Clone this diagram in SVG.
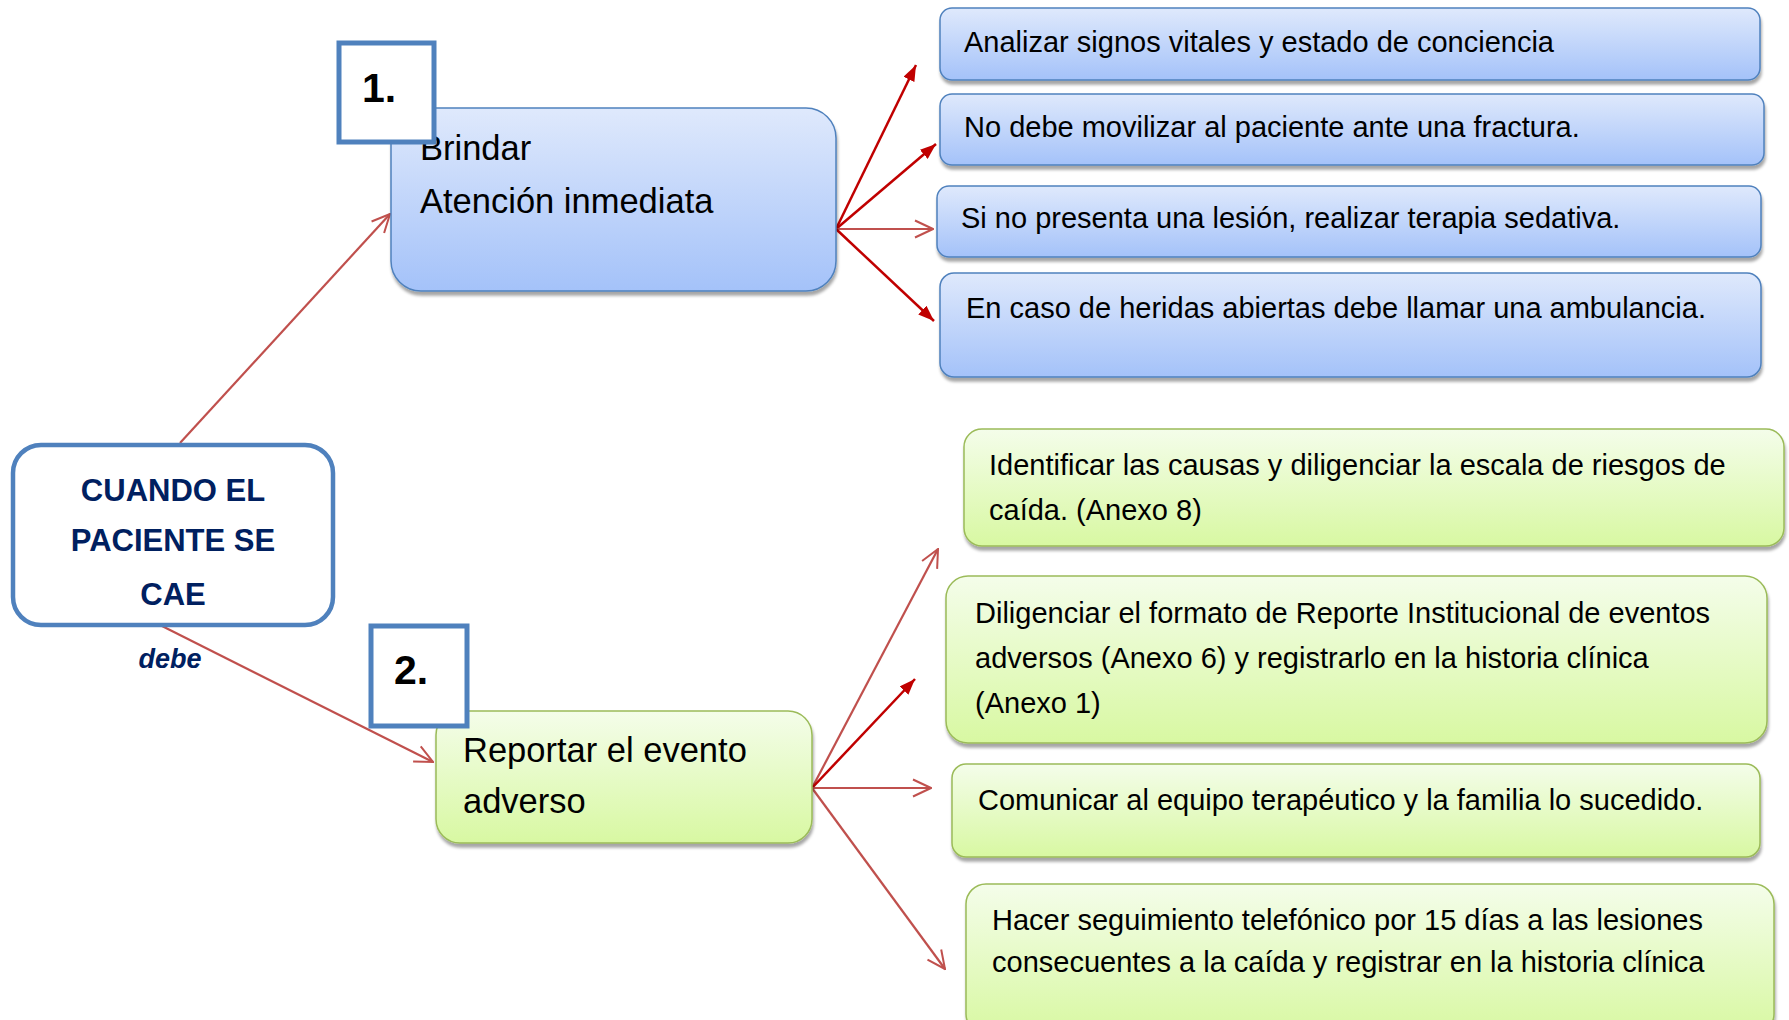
<svg xmlns="http://www.w3.org/2000/svg" width="1789" height="1020" viewBox="0 0 1789 1020">
<style>
.t{font-family:"Liberation Sans",Arial,sans-serif;fill:#000}
.s{font-size:29px}
.m{font-size:34.5px}
.num{font-family:"Liberation Sans",Arial,sans-serif;font-weight:bold;font-size:41px;fill:#000}
.blue{fill:url(#gb);stroke:#4F81BD;stroke-width:1.5}
.green{fill:url(#gg);stroke:#9BBB59;stroke-width:1.5}
.nb{fill:#fff;stroke:#4F81BD;stroke-width:5}
.c1{stroke:#C0504D;stroke-width:2.2;fill:none}
.c2{stroke:#C00000;stroke-width:2.5;fill:none}
.cu{font-family:"Liberation Sans",Arial,sans-serif;font-weight:bold;font-size:31px;fill:#002060}
</style>
<defs>
<linearGradient id="gb" x1="0" y1="0" x2="0" y2="1"><stop offset="0" stop-color="#DFE9FC"/><stop offset="1" stop-color="#A4C2F9"/></linearGradient>
<linearGradient id="gg" x1="0" y1="0" x2="0" y2="1"><stop offset="0" stop-color="#F4FDEA"/><stop offset="1" stop-color="#D8F8A2"/></linearGradient>
<filter id="sh" x="-5%" y="-10%" width="110%" height="130%"><feDropShadow dx="1" dy="4" stdDeviation="1.5" flood-color="#000" flood-opacity="0.35"/></filter>
<marker id="open" viewBox="0 0 20 20" refX="19" refY="10" markerWidth="20" markerHeight="20" markerUnits="userSpaceOnUse" orient="auto"><path d="M1,1.5 L19,10 L1,18.5" fill="none" stroke="#C0504D" stroke-width="2"/></marker>
<marker id="solid" viewBox="0 0 16 12" refX="16" refY="6" markerWidth="16" markerHeight="12" markerUnits="userSpaceOnUse" orient="auto"><path d="M0,0 L16,6 L0,12 Z" fill="#C00000"/></marker>
</defs>
<rect width="1789" height="1020" fill="#fff"/>

<g id="connectors">
<line class="c1" x1="180" y1="443" x2="390" y2="214" marker-end="url(#open)"/>
<line class="c1" x1="160" y1="625" x2="433" y2="762" marker-end="url(#open)"/>
<line class="c2" x1="836" y1="229" x2="916" y2="65" marker-end="url(#solid)"/>
<line class="c2" x1="836" y1="229" x2="936" y2="144" marker-end="url(#solid)"/>
<line class="c1" x1="836" y1="229" x2="933" y2="229" marker-end="url(#open)"/>
<line class="c2" x1="836" y1="229" x2="934" y2="321" marker-end="url(#solid)"/>
<line class="c1" x1="812" y1="788" x2="938" y2="549" marker-end="url(#open)"/>
<line class="c2" x1="812" y1="788" x2="915" y2="679" marker-end="url(#solid)"/>
<line class="c1" x1="812" y1="788" x2="931" y2="788" marker-end="url(#open)"/>
<line class="c1" x1="812" y1="788" x2="945" y2="969" marker-end="url(#open)"/>
</g>

<g id="n-cuando">
<text x="170" y="668" text-anchor="middle" font-family="Liberation Sans,Arial,sans-serif" font-weight="bold" font-style="italic" font-size="27" fill="#002060">debe</text>
<rect x="13" y="445" width="320" height="180" rx="28" fill="#fff" stroke="#4F81BD" stroke-width="4.5"/>
<text class="cu" x="173" y="501" text-anchor="middle">CUANDO EL</text>
<text class="cu" x="173" y="551" text-anchor="middle">PACIENTE SE</text>
<text class="cu" x="173" y="605" text-anchor="middle">CAE</text>
</g>

<g id="n-brindar">
<rect class="blue" x="391" y="108" width="445" height="183" rx="30" filter="url(#sh)"/>
<text class="t m" x="420" y="160">Brindar</text>
<text class="t m" x="420" y="213">Atención inmediata</text>
</g>
<g id="n-num1">
<rect class="nb" x="339" y="43" width="95" height="99"/>
<text class="num" x="362" y="102">1.</text>
</g>

<g id="n-a1">
<rect class="blue" x="940" y="8" width="820" height="72" rx="12" filter="url(#sh)"/>
<text class="t s" x="964" y="52">Analizar signos vitales y estado de conciencia</text>
</g>
<g id="n-a2">
<rect class="blue" x="940" y="94" width="824" height="71" rx="12" filter="url(#sh)"/>
<text class="t s" x="964" y="137">No debe movilizar al paciente ante una fractura.</text>
</g>
<g id="n-a3">
<rect class="blue" x="937" y="186" width="824" height="71" rx="12" filter="url(#sh)"/>
<text class="t s" x="961" y="228">Si no presenta una lesión, realizar terapia sedativa.</text>
</g>
<g id="n-a4">
<rect class="blue" x="940" y="273" width="821" height="104" rx="14" filter="url(#sh)"/>
<text class="t s" x="966" y="318">En caso de heridas abiertas debe llamar una ambulancia.</text>
</g>

<g id="n-reportar">
<rect class="green" x="436" y="711" width="376" height="132" rx="24" filter="url(#sh)"/>
<text class="t m" x="463" y="762">Reportar el evento</text>
<text class="t m" x="463" y="813">adverso</text>
</g>
<g id="n-num2">
<rect class="nb" x="371" y="626" width="96" height="100"/>
<text class="num" x="394" y="684">2.</text>
</g>

<g id="n-b1">
<rect class="green" x="964" y="429" width="820" height="117" rx="18" filter="url(#sh)"/>
<text class="t s" x="989" y="475">Identificar las causas y diligenciar la escala de riesgos de</text>
<text class="t s" x="989" y="520">caída. (Anexo 8)</text>
</g>
<g id="n-b2">
<rect class="green" x="946" y="576" width="821" height="167" rx="22" filter="url(#sh)"/>
<text class="t s" x="975" y="623">Diligenciar el formato de Reporte Institucional de eventos</text>
<text class="t s" x="975" y="668">adversos (Anexo 6) y registrarlo en la historia clínica</text>
<text class="t s" x="975" y="713">(Anexo 1)</text>
</g>
<g id="n-b3">
<rect class="green" x="952" y="764" width="808" height="93" rx="14" filter="url(#sh)"/>
<text class="t s" x="978" y="810">Comunicar al equipo terapéutico y la familia lo sucedido.</text>
</g>
<g id="n-b4">
<rect class="green" x="966" y="884" width="808" height="150" rx="20" filter="url(#sh)"/>
<text class="t s" x="992" y="930">Hacer seguimiento telefónico por 15 días a las lesiones</text>
<text class="t s" x="992" y="972">consecuentes a la caída y registrar en la historia clínica</text>
</g>
</svg>
